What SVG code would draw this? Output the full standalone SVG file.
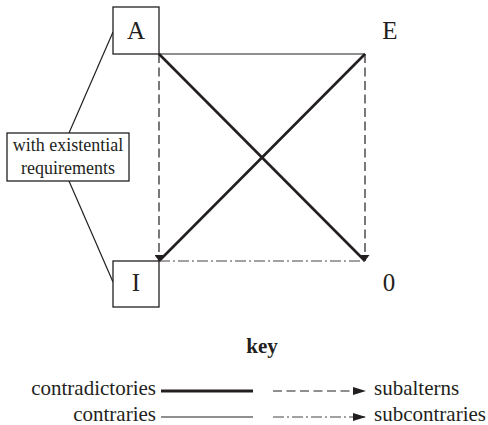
<svg xmlns="http://www.w3.org/2000/svg" width="488" height="425" viewBox="0 0 488 425" font-family="'Liberation Serif', 'DejaVu Serif', serif">
<style>
text{font-family:'Liberation Serif','DejaVu Serif',serif;fill:#231f20}
.big{font-size:25px}
.lbl{font-size:18px}
.key{font-size:21px}
.box{fill:#fff;stroke:#231f20;stroke-width:1.3}
.thick{stroke:#231f20;stroke-width:2.6;fill:none}
.thin{stroke:#231f20;stroke-width:1.2;fill:none}
.dash{stroke:#231f20;stroke-width:1.2;fill:none;stroke-dasharray:9,4.5}
.dd{stroke:#444;stroke-width:1.1;fill:none;stroke-dasharray:11,3,2,3}
</style>
<defs>
<marker id="ah" viewBox="0 0 10 10" refX="10" refY="5" markerWidth="6" markerHeight="9" markerUnits="userSpaceOnUse" orient="auto" preserveAspectRatio="none">
<path d="M0,0 L10,5 L0,10 Z" fill="#231f20"/>
</marker>
<marker id="ahk" viewBox="0 0 10 10" refX="10" refY="5" markerWidth="13" markerHeight="8" markerUnits="userSpaceOnUse" orient="auto" preserveAspectRatio="none">
<path d="M0,0 L10,5 L0,10 Z" fill="#231f20"/>
</marker>
</defs>
<g id="connectors">
<line class="thin" x1="159" y1="54" x2="365" y2="54"/>
<line class="thick" x1="159" y1="54" x2="365" y2="261"/>
<line class="thick" x1="159" y1="261" x2="365" y2="54"/>
<line class="dash" x1="159" y1="54" x2="159" y2="261" marker-end="url(#ah)"/>
<line class="dash" x1="365" y1="54" x2="365" y2="261" marker-end="url(#ah)"/>
<line class="dd" x1="159" y1="261" x2="365" y2="261"/>
<line class="thin" x1="113" y1="32" x2="69" y2="133"/>
<line class="thin" x1="69" y1="181" x2="113" y2="282"/>
</g>
<g id="node-A">
<rect class="box" x="113" y="7" width="46" height="47"/>
<text class="big" x="136" y="39" text-anchor="middle">A</text>
</g>
<g id="node-E">
<text class="big" x="390" y="39" text-anchor="middle">E</text>
</g>
<g id="node-I">
<rect class="box" x="113" y="261" width="46" height="46"/>
<text class="big" x="136" y="291" text-anchor="middle">I</text>
</g>
<g id="node-O">
<text class="big" x="389" y="291" text-anchor="middle">0</text>
</g>
<g id="node-label">
<rect class="box" x="7" y="133" width="122" height="48"/>
<text class="lbl" x="68" y="151" text-anchor="middle">with existential</text>
<text class="lbl" x="68" y="174" text-anchor="middle">requirements</text>
</g>
<g id="key">
<text class="key" x="262" y="353" text-anchor="middle" font-weight="bold">key</text>
<text class="key" x="156" y="395" text-anchor="end">contradictories</text>
<line class="thick" x1="161" y1="391" x2="253" y2="391" style="stroke-width:3"/>
<text class="key" x="156" y="421" text-anchor="end">contraries</text>
<line class="thin" x1="161" y1="417" x2="253" y2="417"/>
<line class="dash" x1="273" y1="391" x2="366" y2="391" marker-end="url(#ahk)"/>
<text class="key" x="374" y="395">subalterns</text>
<line class="dd" x1="273" y1="417" x2="366" y2="417" marker-end="url(#ahk)"/>
<text class="key" x="374" y="421">subcontraries</text>
</g>
</svg>
